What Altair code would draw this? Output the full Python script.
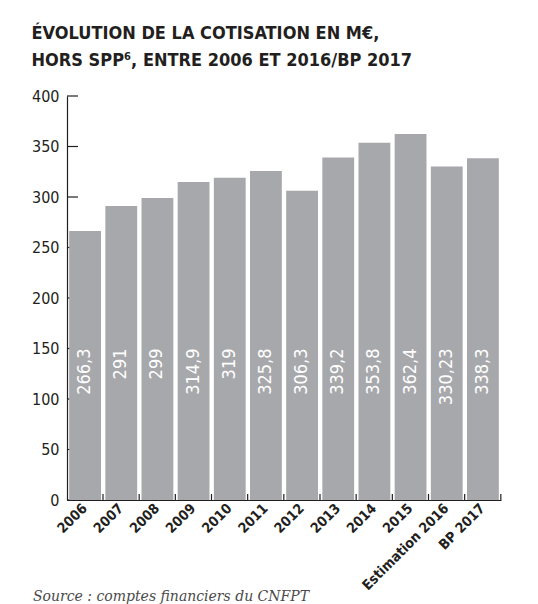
import altair as alt
import pandas as pd

# données (cotisation en M€)
categories = ["2006", "2007", "2008", "2009", "2010", "2011", "2012",
              "2013", "2014", "2015", "Estimation 2016", "BP 2017"]
values = [266.3, 291, 299, 314.9, 319, 325.8, 306.3, 339.2, 353.8, 362.4, 330.23, 338.3]
value_labels = ["266,3", "291", "299", "314,9", "319", "325,8", "306,3",
                "339,2", "353,8", "362,4", "330,23", "338,3"]
y_ticks = [0, 50, 100, 150, 200, 250, 300, 350, 400]

title_lines = ["ÉVOLUTION DE LA COTISATION EN M€,",
               "HORS SPP⁶, ENTRE 2006 ET 2016/BP 2017"]
source_text = "Source : comptes financiers du CNFPT"

NARROW = "Liberation Sans Narrow, DejaVu Sans Condensed, Arial Narrow, sans-serif"
DARK = "#231f20"
BAR = "#a7a8ab"
LABEL_POS = 150   # hauteur où finissent les étiquettes dans les barres
TICK_LEN = 6

df = pd.DataFrame({"annee": categories, "cotisation": values, "etiquette": value_labels})
ticks_df = pd.DataFrame({"tick": y_ticks})

x_scale = alt.Scale(paddingInner=0.12, paddingOuter=0.06)
y_scale = alt.Scale(domain=[0, 400], nice=False)

x_enc = alt.X("annee:N", sort=categories, scale=x_scale,
              axis=alt.Axis(title=None, ticks=False, labelAngle=-45, labelAlign="right",
                            labelBaseline="middle", labelPadding=6, labelFont=NARROW,
                            labelFontSize=14, labelColor=DARK, labelFontWeight="bold",
                            domainColor=DARK, domainWidth=1.2))
y_enc = alt.Y("cotisation:Q", scale=y_scale,
              axis=alt.Axis(title=None, ticks=False, values=y_ticks, grid=False,
                            labelFont=NARROW, labelFontSize=16, labelColor=DARK,
                            labelPadding=8, domainColor=DARK, domainWidth=1.2))

bars = alt.Chart(df).mark_bar(color=BAR).encode(x=x_enc, y=y_enc)

# petits traits de graduation vers l'intérieur (sous les barres)
y_tick_marks = alt.Chart(ticks_df).mark_rule(color=DARK, strokeWidth=1.2).encode(
    y=alt.Y("tick:Q", scale=y_scale, title=None),
    x=alt.value(0),
    x2=alt.value(11),
)

labels = alt.Chart(df).mark_text(
    angle=270, align="right", baseline="middle", color="white",
    font=NARROW, fontSize=18,
).encode(
    x=alt.X("annee:N", sort=categories, scale=x_scale, title=None),
    y=alt.datum(LABEL_POS),
    text="etiquette:N",
)

# traits entre les barres, sur l'axe horizontal
x_tick_marks = alt.Chart(df).mark_rule(color=DARK, strokeWidth=1.2, xOffset=2).encode(
    x=alt.X("annee:N", sort=categories, scale=x_scale, bandPosition=1, title=None),
    y=alt.datum(0),
    y2=alt.datum(TICK_LEN),
)

source = alt.Chart(pd.DataFrame({"t": [source_text]})).mark_text(
    align="left", baseline="alphabetic", font="DejaVu Serif", fontStyle="italic",
    fontSize=14, color="#4a4a4a",
).encode(text="t:N", x=alt.value(-34), y=alt.value(505))

chart = alt.layer(y_tick_marks, bars, labels, x_tick_marks, source).properties(
    width=434,
    height=404,
    autosize=alt.AutoSizeParams(type="none"),
    padding={"left": 59, "top": 88, "right": 25, "bottom": 104},
    title=alt.TitleParams(text=title_lines, anchor="start", frame="bounds",
                          font=NARROW, fontSize=18, fontWeight="bold", color=DARK,
                          lineHeight=27, offset=18),
).configure_view(stroke=None)

chart.save("out.html", embed_options={"renderer": "svg", "actions": False})
